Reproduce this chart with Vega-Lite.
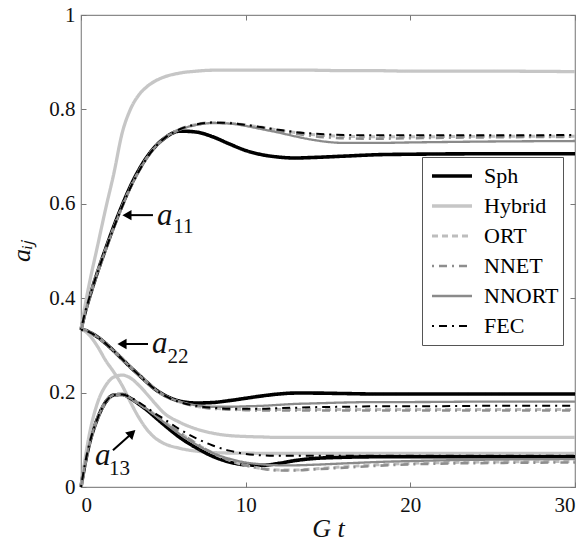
{
  "$schema": "https://vega.github.io/schema/vega-lite/v6.json",
  "width": 494,
  "height": 472,
  "autosize": "none",
  "padding": {"left": 81, "top": 15, "right": 11, "bottom": 55},
  "background": "white",
  "datasets": {
    "curves": [
      {"c":"a11","x":0,"Sph":0.333,"Hybrid":0.333,"ORT":0.333,"NNET":0.333,"NNORT":0.333,"FEC":0.333},
      {"c":"a11","x":0.25,"Sph":0.37,"Hybrid":0.385,"ORT":0.37,"NNET":0.37,"NNORT":0.37,"FEC":0.37},
      {"c":"a11","x":0.5,"Sph":0.40,"Hybrid":0.43,"ORT":0.40,"NNET":0.40,"NNORT":0.40,"FEC":0.40},
      {"c":"a11","x":1,"Sph":0.455,"Hybrid":0.51,"ORT":0.455,"NNET":0.455,"NNORT":0.455,"FEC":0.455},
      {"c":"a11","x":1.5,"Sph":0.505,"Hybrid":0.59,"ORT":0.503,"NNET":0.503,"NNORT":0.503,"FEC":0.503},
      {"c":"a11","x":2,"Sph":0.553,"Hybrid":0.665,"ORT":0.55,"NNET":0.55,"NNORT":0.55,"FEC":0.55},
      {"c":"a11","x":2.5,"Sph":0.597,"Hybrid":0.75,"ORT":0.594,"NNET":0.594,"NNORT":0.594,"FEC":0.594},
      {"c":"a11","x":3,"Sph":0.637,"Hybrid":0.80,"ORT":0.634,"NNET":0.634,"NNORT":0.634,"FEC":0.634},
      {"c":"a11","x":3.5,"Sph":0.671,"Hybrid":0.83,"ORT":0.668,"NNET":0.668,"NNORT":0.668,"FEC":0.668},
      {"c":"a11","x":4,"Sph":0.699,"Hybrid":0.848,"ORT":0.697,"NNET":0.697,"NNORT":0.697,"FEC":0.697},
      {"c":"a11","x":4.5,"Sph":0.721,"Hybrid":0.86,"ORT":0.72,"NNET":0.72,"NNORT":0.72,"FEC":0.72},
      {"c":"a11","x":5,"Sph":0.737,"Hybrid":0.868,"ORT":0.737,"NNET":0.737,"NNORT":0.737,"FEC":0.737},
      {"c":"a11","x":6,"Sph":0.754,"Hybrid":0.877,"ORT":0.758,"NNET":0.758,"NNORT":0.757,"FEC":0.758},
      {"c":"a11","x":7,"Sph":0.752,"Hybrid":0.881,"ORT":0.768,"NNET":0.768,"NNORT":0.767,"FEC":0.768},
      {"c":"a11","x":8,"Sph":0.742,"Hybrid":0.883,"ORT":0.772,"NNET":0.772,"NNORT":0.771,"FEC":0.772},
      {"c":"a11","x":9,"Sph":0.727,"Hybrid":0.883,"ORT":0.771,"NNET":0.771,"NNORT":0.770,"FEC":0.771},
      {"c":"a11","x":10,"Sph":0.713,"Hybrid":0.883,"ORT":0.767,"NNET":0.767,"NNORT":0.765,"FEC":0.767},
      {"c":"a11","x":11,"Sph":0.704,"Hybrid":0.883,"ORT":0.762,"NNET":0.761,"NNORT":0.758,"FEC":0.762},
      {"c":"a11","x":12,"Sph":0.699,"Hybrid":0.883,"ORT":0.756,"NNET":0.755,"NNORT":0.751,"FEC":0.757},
      {"c":"a11","x":13,"Sph":0.697,"Hybrid":0.883,"ORT":0.751,"NNET":0.749,"NNORT":0.743,"FEC":0.752},
      {"c":"a11","x":14,"Sph":0.698,"Hybrid":0.883,"ORT":0.747,"NNET":0.744,"NNORT":0.736,"FEC":0.749},
      {"c":"a11","x":16,"Sph":0.701,"Hybrid":0.882,"ORT":0.743,"NNET":0.739,"NNORT":0.729,"FEC":0.746},
      {"c":"a11","x":18,"Sph":0.704,"Hybrid":0.882,"ORT":0.742,"NNET":0.738,"NNORT":0.729,"FEC":0.745},
      {"c":"a11","x":20,"Sph":0.705,"Hybrid":0.881,"ORT":0.742,"NNET":0.739,"NNORT":0.730,"FEC":0.745},
      {"c":"a11","x":25,"Sph":0.706,"Hybrid":0.881,"ORT":0.743,"NNET":0.741,"NNORT":0.732,"FEC":0.745},
      {"c":"a11","x":30,"Sph":0.706,"Hybrid":0.880,"ORT":0.743,"NNET":0.742,"NNORT":0.733,"FEC":0.746},
      {"c":"a22","x":0,"Sph":0.333,"Hybrid":0.333,"ORT":0.333,"NNET":0.333,"NNORT":0.333,"FEC":0.333},
      {"c":"a22","x":0.25,"Sph":0.332,"Hybrid":0.330,"ORT":0.332,"NNET":0.332,"NNORT":0.332,"FEC":0.332},
      {"c":"a22","x":0.5,"Sph":0.328,"Hybrid":0.322,"ORT":0.328,"NNET":0.328,"NNORT":0.328,"FEC":0.328},
      {"c":"a22","x":1,"Sph":0.318,"Hybrid":0.298,"ORT":0.318,"NNET":0.318,"NNORT":0.318,"FEC":0.318},
      {"c":"a22","x":1.5,"Sph":0.304,"Hybrid":0.268,"ORT":0.304,"NNET":0.304,"NNORT":0.304,"FEC":0.304},
      {"c":"a22","x":2,"Sph":0.288,"Hybrid":0.243,"ORT":0.288,"NNET":0.288,"NNORT":0.288,"FEC":0.288},
      {"c":"a22","x":2.5,"Sph":0.271,"Hybrid":0.215,"ORT":0.271,"NNET":0.271,"NNORT":0.271,"FEC":0.271},
      {"c":"a22","x":3,"Sph":0.254,"Hybrid":0.18,"ORT":0.254,"NNET":0.254,"NNORT":0.254,"FEC":0.254},
      {"c":"a22","x":3.5,"Sph":0.238,"Hybrid":0.148,"ORT":0.238,"NNET":0.238,"NNORT":0.238,"FEC":0.238},
      {"c":"a22","x":4,"Sph":0.222,"Hybrid":0.122,"ORT":0.222,"NNET":0.222,"NNORT":0.222,"FEC":0.222},
      {"c":"a22","x":4.5,"Sph":0.207,"Hybrid":0.104,"ORT":0.207,"NNET":0.207,"NNORT":0.207,"FEC":0.207},
      {"c":"a22","x":5,"Sph":0.196,"Hybrid":0.093,"ORT":0.195,"NNET":0.195,"NNORT":0.195,"FEC":0.195},
      {"c":"a22","x":6,"Sph":0.182,"Hybrid":0.082,"ORT":0.180,"NNET":0.180,"NNORT":0.181,"FEC":0.180},
      {"c":"a22","x":7,"Sph":0.178,"Hybrid":0.076,"ORT":0.171,"NNET":0.171,"NNORT":0.173,"FEC":0.172},
      {"c":"a22","x":8,"Sph":0.179,"Hybrid":0.073,"ORT":0.167,"NNET":0.166,"NNORT":0.170,"FEC":0.168},
      {"c":"a22","x":9,"Sph":0.183,"Hybrid":0.072,"ORT":0.165,"NNET":0.164,"NNORT":0.170,"FEC":0.166},
      {"c":"a22","x":10,"Sph":0.188,"Hybrid":0.072,"ORT":0.164,"NNET":0.163,"NNORT":0.171,"FEC":0.166},
      {"c":"a22","x":11,"Sph":0.193,"Hybrid":0.071,"ORT":0.164,"NNET":0.162,"NNORT":0.172,"FEC":0.166},
      {"c":"a22","x":12,"Sph":0.197,"Hybrid":0.071,"ORT":0.164,"NNET":0.162,"NNORT":0.174,"FEC":0.167},
      {"c":"a22","x":13,"Sph":0.199,"Hybrid":0.071,"ORT":0.164,"NNET":0.162,"NNORT":0.176,"FEC":0.168},
      {"c":"a22","x":14,"Sph":0.199,"Hybrid":0.071,"ORT":0.164,"NNET":0.162,"NNORT":0.177,"FEC":0.169},
      {"c":"a22","x":16,"Sph":0.198,"Hybrid":0.071,"ORT":0.164,"NNET":0.162,"NNORT":0.179,"FEC":0.170},
      {"c":"a22","x":18,"Sph":0.197,"Hybrid":0.071,"ORT":0.164,"NNET":0.162,"NNORT":0.180,"FEC":0.171},
      {"c":"a22","x":20,"Sph":0.197,"Hybrid":0.071,"ORT":0.164,"NNET":0.162,"NNORT":0.180,"FEC":0.171},
      {"c":"a22","x":25,"Sph":0.197,"Hybrid":0.071,"ORT":0.164,"NNET":0.162,"NNORT":0.181,"FEC":0.172},
      {"c":"a22","x":30,"Sph":0.197,"Hybrid":0.071,"ORT":0.164,"NNET":0.162,"NNORT":0.181,"FEC":0.172},
      {"c":"a13","x":0,"Sph":0,"Hybrid":0,"ORT":0,"NNET":0,"NNORT":0,"FEC":0},
      {"c":"a13","x":0.25,"Sph":0.05,"Hybrid":0.06,"ORT":0.05,"NNET":0.05,"NNORT":0.05,"FEC":0.05},
      {"c":"a13","x":0.5,"Sph":0.09,"Hybrid":0.11,"ORT":0.09,"NNET":0.09,"NNORT":0.09,"FEC":0.09},
      {"c":"a13","x":1,"Sph":0.145,"Hybrid":0.178,"ORT":0.145,"NNET":0.145,"NNORT":0.145,"FEC":0.145},
      {"c":"a13","x":1.5,"Sph":0.18,"Hybrid":0.215,"ORT":0.18,"NNET":0.18,"NNORT":0.18,"FEC":0.18},
      {"c":"a13","x":2,"Sph":0.195,"Hybrid":0.233,"ORT":0.195,"NNET":0.195,"NNORT":0.195,"FEC":0.195},
      {"c":"a13","x":2.5,"Sph":0.196,"Hybrid":0.237,"ORT":0.196,"NNET":0.196,"NNORT":0.196,"FEC":0.196},
      {"c":"a13","x":3,"Sph":0.188,"Hybrid":0.231,"ORT":0.188,"NNET":0.188,"NNORT":0.188,"FEC":0.190},
      {"c":"a13","x":3.5,"Sph":0.176,"Hybrid":0.216,"ORT":0.177,"NNET":0.177,"NNORT":0.177,"FEC":0.180},
      {"c":"a13","x":4,"Sph":0.163,"Hybrid":0.197,"ORT":0.166,"NNET":0.166,"NNORT":0.165,"FEC":0.168},
      {"c":"a13","x":4.5,"Sph":0.148,"Hybrid":0.177,"ORT":0.153,"NNET":0.153,"NNORT":0.152,"FEC":0.156},
      {"c":"a13","x":5,"Sph":0.133,"Hybrid":0.158,"ORT":0.140,"NNET":0.140,"NNORT":0.138,"FEC":0.145},
      {"c":"a13","x":6,"Sph":0.105,"Hybrid":0.137,"ORT":0.115,"NNET":0.115,"NNORT":0.112,"FEC":0.122},
      {"c":"a13","x":7,"Sph":0.083,"Hybrid":0.123,"ORT":0.092,"NNET":0.092,"NNORT":0.090,"FEC":0.103},
      {"c":"a13","x":8,"Sph":0.065,"Hybrid":0.114,"ORT":0.072,"NNET":0.072,"NNORT":0.072,"FEC":0.088},
      {"c":"a13","x":9,"Sph":0.053,"Hybrid":0.109,"ORT":0.057,"NNET":0.057,"NNORT":0.060,"FEC":0.077},
      {"c":"a13","x":10,"Sph":0.047,"Hybrid":0.107,"ORT":0.046,"NNET":0.046,"NNORT":0.052,"FEC":0.070},
      {"c":"a13","x":11,"Sph":0.046,"Hybrid":0.106,"ORT":0.039,"NNET":0.039,"NNORT":0.048,"FEC":0.067},
      {"c":"a13","x":12,"Sph":0.050,"Hybrid":0.105,"ORT":0.036,"NNET":0.035,"NNORT":0.046,"FEC":0.066},
      {"c":"a13","x":13,"Sph":0.056,"Hybrid":0.105,"ORT":0.036,"NNET":0.035,"NNORT":0.046,"FEC":0.066},
      {"c":"a13","x":14,"Sph":0.060,"Hybrid":0.105,"ORT":0.038,"NNET":0.037,"NNORT":0.047,"FEC":0.066},
      {"c":"a13","x":16,"Sph":0.063,"Hybrid":0.105,"ORT":0.043,"NNET":0.041,"NNORT":0.050,"FEC":0.066},
      {"c":"a13","x":18,"Sph":0.064,"Hybrid":0.105,"ORT":0.047,"NNET":0.045,"NNORT":0.053,"FEC":0.066},
      {"c":"a13","x":20,"Sph":0.064,"Hybrid":0.105,"ORT":0.050,"NNET":0.048,"NNORT":0.055,"FEC":0.066},
      {"c":"a13","x":25,"Sph":0.064,"Hybrid":0.105,"ORT":0.053,"NNET":0.051,"NNORT":0.058,"FEC":0.066},
      {"c":"a13","x":30,"Sph":0.064,"Hybrid":0.105,"ORT":0.054,"NNET":0.052,"NNORT":0.059,"FEC":0.066}
    ],
    "arrows": [
      {"d":"left","x":2.79,"y":0.576,"x2":4.37,"y2":0.576},
      {"d":"left","x":2.49,"y":0.303,"x2":4.07,"y2":0.303},
      {"d":"diag","x":3.1,"y":0.114,"x2":1.94,"y2":0.078}
    ],
    "notes": [
      {"k":"a","t":"a","x":4.62,"y":0.555},
      {"k":"a","t":"a","x":4.31,"y":0.284},
      {"k":"a","t":"a","x":0.85,"y":0.047},
      {"k":"s","t":"11","x":5.6,"y":0.538},
      {"k":"s","t":"22","x":5.25,"y":0.263},
      {"k":"s","t":"13","x":1.7,"y":0.025}
    ]
  },
  "layer": [
    {
      "data": {"name": "curves"},
      "transform": [{"fold": ["Sph", "Hybrid", "ORT", "NNET", "NNORT", "FEC"], "as": ["method", "value"]}],
      "mark": {"type": "line", "interpolate": "monotone"},
      "encoding": {
        "x": {"field": "x", "type": "quantitative", "scale": {"domain": [0, 30], "nice": false}, "axis": {"values": [0, 10, 20, 30], "title": "G t", "labelPadding": 12, "titlePadding": 0}},
        "y": {"field": "value", "type": "quantitative", "scale": {"domain": [0, 1], "nice": false}, "axis": {"values": [0, 0.2, 0.4, 0.6, 0.8, 1], "format": ".1~f", "title": "aᵢⱼ", "labelPadding": 11, "titlePadding": 14}},
        "detail": {"field": "c"},
        "color": {"field": "method", "type": "nominal", "scale": {"domain": ["Sph", "Hybrid", "ORT", "NNET", "NNORT", "FEC"], "range": ["#000000", "#c6c6c6", "#bdbdbd", "#8e8e8e", "#8a8a8a", "#000000"]}, "legend": {"title": null}},
        "strokeDash": {"field": "method", "type": "nominal", "scale": {"domain": ["Sph", "Hybrid", "ORT", "NNET", "NNORT", "FEC"], "range": [[1, 0], [1, 0], [6, 4], [2, 5, 8, 5], [1, 0], [2, 5, 8, 5]]}, "legend": {"title": null}},
        "strokeWidth": {"field": "method", "type": "nominal", "scale": {"domain": ["Sph", "Hybrid", "ORT", "NNET", "NNORT", "FEC"], "range": [3.6, 2, 2, 2.2, 2.6, 2.6]}, "legend": {"title": null}}
      }
    },
    {
      "data": {"name": "curves"},
      "mark": {"type": "point", "opacity": 0},
      "encoding": {
        "x": {"field": "x", "type": "quantitative", "axis": {"orient": "top", "values": [0, 10, 20, 30], "labels": false, "title": null}},
        "y": {"field": "Sph", "type": "quantitative", "axis": {"orient": "right", "values": [0, 0.2, 0.4, 0.6, 0.8, 1], "labels": false, "title": null}}
      }
    },
    {
      "data": {"name": "arrows"},
      "mark": {"type": "rule", "color": "black", "strokeWidth": 2},
      "encoding": {
        "x": {"field": "x", "type": "quantitative", "axis": null},
        "y": {"field": "y", "type": "quantitative", "axis": null},
        "x2": {"field": "x2"},
        "y2": {"field": "y2"}
      }
    },
    {
      "data": {"name": "arrows"},
      "transform": [{"filter": "datum.d === 'left'"}],
      "mark": {"type": "point", "shape": "triangle-up", "filled": true, "color": "black", "size": 110, "angle": 270, "opacity": 1},
      "encoding": {
        "x": {"field": "x", "type": "quantitative", "axis": null},
        "y": {"field": "y", "type": "quantitative", "axis": null}
      }
    },
    {
      "data": {"name": "arrows"},
      "transform": [{"filter": "datum.d === 'diag'"}],
      "mark": {"type": "point", "shape": "triangle-up", "filled": true, "color": "black", "size": 110, "angle": 47, "opacity": 1},
      "encoding": {
        "x": {"field": "x", "type": "quantitative", "axis": null},
        "y": {"field": "y", "type": "quantitative", "axis": null}
      }
    },
    {
      "data": {"name": "notes"},
      "transform": [{"filter": "datum.k === 'a'"}],
      "mark": {"type": "text", "font": "Liberation Serif, Times New Roman, serif", "fontStyle": "italic", "fontSize": 31, "align": "left", "baseline": "alphabetic", "color": "#111"},
      "encoding": {
        "x": {"field": "x", "type": "quantitative", "axis": null},
        "y": {"field": "y", "type": "quantitative", "axis": null},
        "text": {"field": "t"}
      }
    },
    {
      "data": {"name": "notes"},
      "transform": [{"filter": "datum.k === 's'"}],
      "mark": {"type": "text", "font": "Liberation Serif, Times New Roman, serif", "fontSize": 21, "align": "left", "baseline": "alphabetic", "color": "#111"},
      "encoding": {
        "x": {"field": "x", "type": "quantitative", "axis": null},
        "y": {"field": "y", "type": "quantitative", "axis": null},
        "text": {"field": "t"}
      }
    }
  ],
  "resolve": {"axis": {"x": "independent", "y": "independent"}},
  "config": {
    "font": "Liberation Serif, Times New Roman, serif",
    "view": {"stroke": "#8a8a8a", "strokeWidth": 1.2},
    "axis": {"grid": false, "domain": false, "tickColor": "#777", "tickSize": -5, "tickWidth": 1, "labelFont": "Liberation Serif, Times New Roman, serif", "labelFontSize": 21, "labelColor": "#111", "titleFont": "Liberation Serif, Times New Roman, serif", "titleFontStyle": "italic", "titleFontWeight": "normal", "titleFontSize": 26, "titleColor": "#111"},
    "legend": {"orient": "none", "legendX": 341, "legendY": 142, "padding": 4, "strokeColor": "#555", "fillColor": "white", "symbolType": "stroke", "symbolSize": 1600, "symbolOffset": 4, "clipHeight": 30, "rowPadding": 0, "labelFont": "Liberation Serif, Times New Roman, serif", "labelFontSize": 22, "labelColor": "#000", "labelOffset": 10, "labelLimit": 200},
    "text": {"font": "Liberation Serif, Times New Roman, serif"}
  }
}
